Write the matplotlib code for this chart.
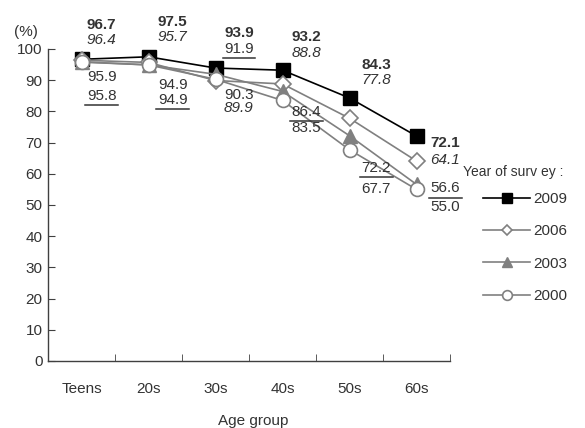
import matplotlib
matplotlib.use("Agg")
import numpy as np
from matplotlib import pyplot as plt

plt.rcParams['font.family'] = ['Liberation Sans', 'DejaVu Sans']

# data
age_groups = ["Teens", "20s", "30s", "40s", "50s", "60s"]
years = ["2009", "2006", "2003", "2000"]
v2009 = [96.7, 97.5, 93.9, 93.2, 84.3, 72.1]
v2006 = [96.4, 95.7, 89.9, 88.8, 77.8, 64.1]
v2003 = [95.8, 94.9, 91.9, 86.4, 72.2, 56.6]
v2000 = [95.9, 94.9, 90.3, 83.5, 67.7, 55.0]

# where the value labels sit (data units), per age group
lab_dx = [0.30, 0.36, 0.35, 0.36, 0.40, 0.43]
lab_y2009 = [107.7, 108.7, 105.1, 103.8, 94.9, 69.9]
lab_y2006 = [102.9, 103.8, 81.1, 98.7, 90.1, 64.4]
lab_y2003 = [84.9, 83.7, 100.0, 79.8, 61.9, 55.4]
lab_y2000 = [91.0, 88.5, 85.3, 74.7, 55.1, 49.4]

TXT = "#333333"
GRAY = "#808080"

fig = plt.figure(figsize=(5.85, 4.28), dpi=100)
ax = fig.add_axes([48 / 585, 1 - 361 / 428, 402 / 585, 312 / 428])
x = np.arange(len(age_groups))

styles = [
    dict(color="black", marker="s", ms=10, mfc="black", mec="black", lw=1.2),
    dict(color=GRAY, marker="D", ms=8, mfc="white", mec=GRAY, mew=1.2, lw=1.2),
    dict(color=GRAY, marker="^", ms=10, mfc=GRAY, mec=GRAY, lw=1.2),
    dict(color=GRAY, marker="o", ms=10, mfc="white", mec=GRAY, mew=1.2, lw=1.2),
]
series = [v2009, v2006, v2003, v2000]
handles = []
for vals, st, yr in zip(series, styles, years):
    h, = ax.plot(x, vals, label=yr, clip_on=False, **st)
    handles.append(h)

fs = 11
for i in range(len(age_groups)):
    xi = x[i] + lab_dx[i]
    ax.text(xi, lab_y2009[i], f"{v2009[i]:.1f}", ha="center", va="center",
            fontsize=fs, fontweight="bold", color=TXT, clip_on=False)
    ax.text(xi, lab_y2006[i], f"{v2006[i]:.1f}", ha="center", va="center",
            fontsize=fs, style="italic", color=TXT, clip_on=False)
    ax.text(xi, lab_y2003[i], f"{v2003[i]:.1f}", ha="center", va="center",
            fontsize=fs, color=TXT, clip_on=False)
    ax.plot([xi - 0.245, xi + 0.245], [lab_y2003[i] - 3.0] * 2, color=TXT,
            lw=1.1, clip_on=False)
    ax.text(xi, lab_y2000[i], f"{v2000[i]:.1f}", ha="center", va="center",
            fontsize=fs, color=TXT, clip_on=False)

ax.set_xlim(-0.5, 5.5)
ax.set_ylim(0, 100)
ax.set_yticks(np.arange(0, 101, 10))
ax.set_xticks(x)
ax.set_xticklabels(age_groups)
ax.set_xticks(np.arange(0.5, 5.6, 1), minor=True)
ax.tick_params(axis="x", which="major", length=0, pad=15, labelsize=fs, labelcolor=TXT)
ax.tick_params(axis="x", which="minor", direction="in", length=5, color="#404040")
ax.tick_params(axis="y", direction="in", length=5, pad=4, labelsize=fs,
               labelcolor=TXT, color="#404040")
for s in ["top", "right"]:
    ax.spines[s].set_visible(False)
for s in ["left", "bottom"]:
    ax.spines[s].set_color("#404040")
    ax.spines[s].set_linewidth(1.0)

fig.text(26 / 585, 1 - 32 / 428, "(%)", ha="center", va="center", fontsize=fs, color=TXT)
fig.text(253 / 585, 1 - 421 / 428, "Age group", ha="center", va="center",
         fontsize=fs, color=TXT)
fig.text(463 / 585, 1 - 172 / 428, "Year of surv ey :", ha="left", va="center",
         fontsize=10, color=TXT)

fig.legend(handles=handles, loc="upper left", bbox_to_anchor=(483 / 585, 1 - 192 / 428),
           frameon=False, fontsize=fs, handlelength=3.1, handletextpad=0.2,
           labelspacing=1.2, borderpad=0, borderaxespad=0, markerscale=0.7,
           labelcolor=TXT)

fig.savefig("out.png", dpi=100)
